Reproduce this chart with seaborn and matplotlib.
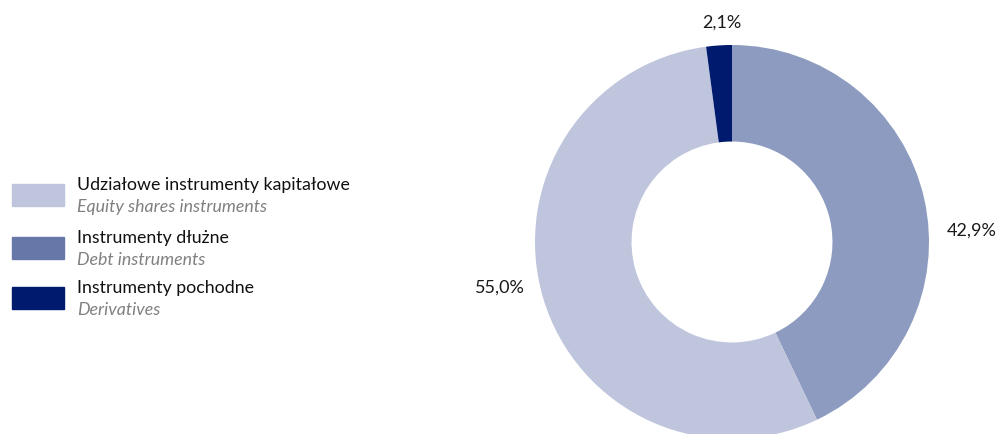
import matplotlib
matplotlib.use("Agg")
import matplotlib.pyplot as plt
import seaborn as sns
from matplotlib.patches import Rectangle

# Portfolio structure by instrument type (share of total, %)
pie_labels = ["Instrumenty dłużne", "Udziałowe instrumenty kapitałowe", "Instrumenty pochodne"]
pie_values = [42.9, 55.0, 2.1]

legend_pl = ["Udziałowe instrumenty kapitałowe", "Instrumenty dłużne", "Instrumenty pochodne"]
legend_en = ["Equity shares instruments", "Debt instruments", "Derivatives"]

sns.set_theme(style="white")
plt.rcParams["font.family"] = ["Lato", "DejaVu Sans"]

wedge_colors = {"Instrumenty dłużne": "#8c9bbf",
                "Udziałowe instrumenty kapitałowe": "#bfc5dc",
                "Instrumenty pochodne": "#001a6e"}
swatch_colors = {"Instrumenty dłużne": "#6677a8",
                 "Udziałowe instrumenty kapitałowe": "#bfc5dc",
                 "Instrumenty pochodne": "#001a6e"}

W, H = 999, 434
fig = plt.figure(figsize=(W / 100, H / 100), dpi=100)

# donut axes: centre (732, 242) px, outer radius 197 px
cx, cy, r = 732, 242, 197
ax = fig.add_axes([(cx - r) / W, (H - cy - r) / H, 2 * r / W, 2 * r / H])
wedges, _ = ax.pie(pie_values, colors=[wedge_colors[l] for l in pie_labels],
                   startangle=90, counterclock=False, radius=1.0,
                   wedgeprops=dict(width=0.49, edgecolor="none"))
ax.set_xlim(-1, 1)
ax.set_ylim(-1, 1)
ax.set_aspect("equal")
ax.axis("off")

# value labels outside the ring
label_pos = [(1.218, 0.056), (-1.178, -0.234), (-0.051, 1.112)]
for v, (x, y) in zip(pie_values, label_pos):
    ax.text(x, y, f"{v:.1f}%".replace(".", ","), ha="center", va="center",
            fontsize=13, color="#1a1a1a", clip_on=False)

# legend drawn by hand: swatch + Polish name + English italic subtitle
rows_top = [184, 237, 287]
for pl, en, top in zip(legend_pl, legend_en, rows_top):
    fig.patches.append(Rectangle((12 / W, (H - top - 22) / H), 52 / W, 22 / H,
                                 transform=fig.transFigure, color=swatch_colors[pl]))
    fig.text(77 / W, 1 - (top + 1) / H, pl, ha="left", va="center",
             fontsize=12.8, color="#111111")
    fig.text(77 / W, 1 - (top + 23) / H, en, ha="left", va="center",
             fontsize=12.8, color="#808080", style="italic")

fig.savefig("out.png", dpi=100)
